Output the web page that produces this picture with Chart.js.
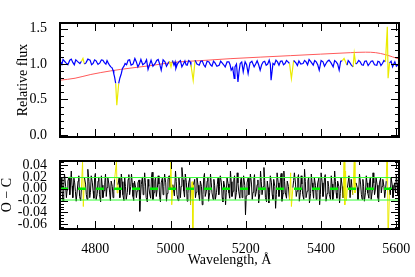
<!DOCTYPE html>
<html>
<head>
<meta charset="utf-8">
<script src="https://cdn.jsdelivr.net/npm/chart.js@4.4.1/dist/chart.umd.min.js"></script>
<style>
  html, body { margin: 0; padding: 0; background: #fff; }
  #wrap { position: relative; width: 415px; height: 277px; }
  #wrap canvas { position: absolute; left: 0; top: 0; }
</style>
</head>
<body>
<div id="wrap">
  <canvas id="fluxChart" width="415" height="277"></canvas>
  <canvas id="residChart" width="415" height="277"></canvas>
</div>
<script>
// observed spectrum, normalised
const wave = [4708, 4711, 4714, 4718, 4722, 4727, 4732, 4736, 4740, 4744, 4748, 4753, 4759, 4763, 4767, 4771, 4775, 4780,
  4786, 4790, 4794, 4798, 4802, 4807, 4812, 4816, 4820, 4824, 4828, 4831, 4834, 4838, 4841, 4844, 4847, 4849, 4851, 4854,
  4857, 4862, 4865, 4869, 4872, 4876, 4879, 4883, 4887, 4891, 4895, 4900, 4905, 4909, 4913, 4917, 4921, 4926, 4932, 4936,
  4940, 4944, 4948, 4953, 4959, 4963, 4967, 4971, 4975, 4980, 4985, 4989, 4993, 4997, 5001, 5005, 5009, 5012, 5014, 5018,
  5022, 5026, 5030, 5034, 5038, 5041, 5044, 5048, 5052, 5054, 5060, 5065, 5070, 5076, 5080, 5084, 5088, 5092, 5097, 5102,
  5106, 5110, 5114, 5118, 5123, 5129, 5133, 5137, 5141, 5145, 5150, 5155, 5158, 5161, 5165, 5169, 5171, 5175, 5179, 5182,
  5185, 5189, 5193, 5196, 5198, 5202, 5206, 5209, 5211, 5216, 5222, 5226, 5230, 5234, 5238, 5242, 5246, 5250, 5254, 5258,
  5262, 5265, 5267, 5272, 5276, 5280, 5284, 5288, 5292, 5296, 5300, 5304, 5308, 5312, 5316, 5321, 5327, 5333, 5337, 5341,
  5346, 5352, 5356, 5360, 5364, 5368, 5373, 5379, 5383, 5387, 5391, 5395, 5400, 5405, 5409, 5413, 5417, 5421, 5426, 5432,
  5436, 5440, 5444, 5448, 5452, 5456, 5461, 5469, 5472, 5475, 5480, 5485, 5488, 5492, 5496, 5500, 5504, 5508, 5512, 5516,
  5520, 5525, 5529, 5533, 5537, 5542, 5548, 5551, 5555, 5559, 5563, 5567, 5571, 5576, 5578, 5582, 5586, 5590, 5593, 5596,
  5600, 5603, 5607];
const flux = [1.031, 0.995, 1.065, 1.04, 1.017, 0.99, 1.055, 1.07, 1.023, 0.99, 1.06, 1.035, 1.008, 1.04, 1.079, 1.00, 1.017, 1.07,
  1.055, 0.99, 1.008, 1.06, 1.045, 0.995, 1.017, 1.06, 1.055, 1.02, 0.999, 1.05, 1.017, 0.98, 0.96, 0.95, 0.914, 0.86, 0.819, 0.726,
  0.419, 0.726, 0.80, 0.867, 0.938, 0.97, 1.008, 0.99, 1.055, 1.06, 0.984, 1.00, 1.079, 1.03, 0.96, 1.00, 1.065, 0.99, 1.017, 1.06,
  0.924, 0.99, 1.055, 0.97, 1.008, 1.05, 1.065, 1.00, 0.914, 1.06, 1.031, 0.97, 1.008, 1.04, 0.96, 1.05, 0.984, 1.03, 0.938, 1.00,
  1.031, 1.05, 0.96, 1.00, 1.045, 0.99, 0.984, 1.05, 1.031, 0.99, 0.772, 1.055, 1.00, 0.984, 1.04, 1.045, 0.99, 0.96, 1.04, 1.031,
  0.99, 0.97, 1.04, 1.017, 0.97, 0.984, 1.04, 1.017, 0.99, 0.96, 1.03, 1.031, 0.99, 0.914, 0.95, 0.796, 0.96, 1.00, 0.748, 0.90,
  1.008, 1.03, 0.89, 0.98, 1.031, 0.99, 0.867, 0.96, 1.017, 1.04, 0.96, 1.00, 1.045, 0.99, 0.914, 0.99, 1.031, 1.04, 0.984, 1.00,
  1.055, 1.00, 0.772, 1.008, 0.99, 1.055, 1.03, 0.984, 1.04, 1.045, 0.99, 1.008, 1.05, 1.031, 1.008, 0.796, 1.05, 1.017, 0.98, 1.045,
  1.00, 1.008, 1.05, 1.031, 0.99, 1.065, 1.03, 0.984, 1.05, 1.031, 0.99, 0.914, 1.05, 1.031, 0.97, 1.008, 1.04, 1.055, 1.02, 0.96,
  1.05, 1.031, 1.00, 0.914, 1.04, 1.045, 1.079, 0.984, 1.05, 1.031, 0.99, 0.96, 1.15, 1.00, 1.017, 1.05, 1.031, 0.99, 0.984, 1.04,
  1.045, 0.98, 1.008, 1.04, 1.045, 0.99, 0.984, 1.04, 1.031, 0.98, 1.008, 1.05, 1.031, 1.526, 0.80, 1.017, 1.04, 0.96, 1.00, 1.031,
  0.97, 0.984, 1.008];

// smooth red curve
const modelWave = [4706, 4746, 4788, 4841, 4892, 4945, 5012, 5078, 5158, 5238, 5318, 5398, 5478, 5518, 5545, 5571, 5608];
const model = [0.772, 0.80, 0.853, 0.904, 0.942, 0.977, 1.027, 1.048, 1.076, 1.098, 1.119, 1.140, 1.161, 1.168, 1.161, 1.133, 1.069];

// residuals O - C
const residWave = [4706, 4709, 4711, 4714, 4716, 4718, 4721, 4723, 4725, 4727, 4730, 4732, 4734, 4736, 4738, 4740, 4743, 4745,
  4747, 4749, 4752, 4754, 4756, 4758, 4761, 4763, 4766, 4768, 4771, 4774, 4776, 4778, 4780, 4783, 4785, 4787, 4789, 4792, 4794,
  4796, 4798, 4800, 4802, 4805, 4807, 4809, 4811, 4814, 4816, 4818, 4820, 4823, 4825, 4827, 4829, 4831, 4833, 4836, 4838, 4840,
  4842, 4845, 4847, 4849, 4851, 4856, 4858, 4860, 4863, 4865, 4867, 4869, 4871, 4873, 4876, 4878, 4880, 4882, 4885, 4887, 4889,
  4891, 4894, 4896, 4898, 4900, 4902, 4904, 4907, 4909, 4911, 4913, 4916, 4918, 4920, 4922, 4925, 4927, 4929, 4931, 4933, 4935,
  4938, 4940, 4942, 4944, 4947, 4949, 4951, 4953, 4956, 4958, 4960, 4962, 4965, 4967, 4969, 4971, 4973, 4975, 4978, 4980, 4982,
  4984, 4987, 4989, 4991, 4993, 4996, 4998, 5001, 5003, 5006, 5010, 5013, 5015, 5017, 5020, 5022, 5024, 5026, 5028, 5030, 5033,
  5035, 5037, 5039, 5042, 5044, 5046, 5048, 5051, 5053, 5057, 5059, 5061, 5064, 5066, 5068, 5070, 5073, 5075, 5077, 5079, 5082,
  5084, 5086, 5088, 5090, 5092, 5095, 5097, 5099, 5101, 5104, 5106, 5108, 5110, 5113, 5115, 5117, 5119, 5122, 5124, 5126, 5128,
  5130, 5132, 5135, 5137, 5139, 5141, 5144, 5146, 5148, 5150, 5153, 5155, 5157, 5159, 5161, 5163, 5166, 5168, 5170, 5172, 5175,
  5177, 5179, 5181, 5184, 5186, 5188, 5190, 5192, 5194, 5197, 5199, 5201, 5203, 5206, 5208, 5210, 5212, 5215, 5217, 5219, 5221,
  5223, 5225, 5228, 5230, 5232, 5234, 5237, 5239, 5241, 5243, 5246, 5248, 5250, 5252, 5255, 5257, 5259, 5261, 5263, 5265, 5268,
  5270, 5272, 5274, 5277, 5279, 5281, 5283, 5286, 5288, 5290, 5292, 5294, 5296, 5299, 5301, 5303, 5305, 5308, 5310, 5313, 5316,
  5319, 5321, 5325, 5327, 5329, 5332, 5334, 5336, 5338, 5340, 5342, 5345, 5347, 5349, 5351, 5354, 5356, 5358, 5360, 5363, 5365,
  5367, 5369, 5372, 5374, 5376, 5378, 5380, 5382, 5385, 5387, 5389, 5391, 5394, 5396, 5398, 5400, 5403, 5405, 5407, 5409, 5411,
  5413, 5416, 5418, 5420, 5422, 5425, 5427, 5429, 5431, 5434, 5436, 5438, 5440, 5442, 5444, 5447, 5449, 5451, 5453, 5456, 5458,
  5461, 5463, 5465, 5467, 5470, 5474, 5477, 5480, 5484, 5488, 5490, 5493, 5496, 5498, 5500, 5502, 5505, 5507, 5509, 5511, 5513,
  5515, 5518, 5520, 5522, 5524, 5527, 5529, 5531, 5533, 5536, 5538, 5540, 5542, 5544, 5546, 5549, 5551, 5553, 5555, 5558, 5560,
  5562, 5564, 5567, 5569, 5571, 5573, 5576, 5578, 5582, 5584, 5586, 5589, 5591, 5593, 5595, 5598, 5600, 5602, 5604, 5606, 5608];
const resid = [-0.004, 0.019, 0.000, -0.021, 0.005, 0.025, 0.004, -0.015, -0.002, 0.013, 0.020, -0.010, 0.008, 0.030, 0.005, -0.015, 0.018, 0.010,
  -0.005, -0.021, -0.002, 0.013, 0.022, -0.013, -0.020, 0.002, 0.045, -0.030, 0.019, 0.008, -0.010, -0.018, 0.033, 0.012, -0.015, -0.006, 0.022, 0.010, -0.004,
  -0.016, 0.019, 0.026, -0.018, -0.008, 0.013, 0.020, -0.010, -0.022, 0.022, 0.006, -0.015, -0.003, 0.010, 0.025, -0.013, 0.002, 0.019, 0.008, -0.007, -0.020,
  0.013, 0.004, -0.015, -0.004, 0.016, 0.045, -0.007, 0.007, 0.018, -0.015, -0.005, 0.025, 0.012, -0.010, -0.020, 0.019, 0.004, -0.018, -0.006, 0.016, 0.024,
  -0.010, 0.004, 0.025, 0.010, -0.013, -0.020, 0.013, 0.002, -0.015, -0.004, 0.010, 0.015, -0.038, -0.012, 0.007, 0.020, -0.010, 0.004, 0.027, 0.010, -0.015,
  -0.022, 0.016, 0.004, -0.007, -0.016, 0.019, 0.028, -0.018, -0.006, 0.013, 0.020, -0.013, 0.002, 0.022, 0.008, -0.015, -0.022, 0.010, 0.018, -0.010, 0.004,
  0.025, 0.010, -0.021, -0.008, 0.016, 0.022, -0.001, 0.045, -0.027, 0.007, -0.012, 0.030, 0.012, -0.010, -0.020, 0.019, 0.006, -0.015, 0.004, 0.036, 0.015,
  -0.004, -0.014, 0.025, 0.010, -0.021, -0.008, 0.010, 0.018, -0.027, 0.012, -0.070, 0.007, 0.016, -0.015, -0.006, 0.019, 0.006, -0.010, -0.020, 0.013, 0.004,
  -0.027, -0.010, 0.019, 0.026, -0.013, -0.004, 0.013, 0.020, -0.021, -0.006, 0.025, 0.010, -0.007, -0.018, 0.016, 0.006, -0.018, -0.006, 0.007, 0.018, -0.010,
  0.004, 0.022, 0.010, -0.015, -0.022, 0.013, 0.002, -0.027, -0.006, 0.019, 0.008, -0.007, -0.016, 0.030, 0.012, -0.013, -0.004, 0.016, 0.022, -0.018, -0.006,
  0.027, 0.010, -0.004, -0.016, 0.013, 0.020, -0.015, 0.002, 0.022, 0.006, -0.044, -0.012, 0.010, 0.018, -0.010, 0.004, 0.025, 0.008, -0.018, -0.006, 0.016,
  0.024, -0.013, -0.004, 0.007, 0.015, -0.024, -0.008, 0.030, 0.012, -0.010, 0.004, 0.036, 0.014, -0.015, -0.022, 0.013, 0.002, -0.024, -0.006, 0.022, 0.010,
  -0.010, -0.018, 0.016, 0.004, -0.033, -0.010, 0.027, 0.010, -0.013, -0.004, 0.019, 0.026, -0.021, -0.008, 0.030, 0.012, -0.007, -0.016, 0.013, 0.004, -0.018,
  0.027, -0.030, 0.002, 0.014, 0.027, 0.008, -0.013, -0.004, 0.019, 0.024, -0.021, -0.006, 0.022, 0.008, -0.010, -0.018, 0.033, 0.012, -0.015, -0.004, 0.013,
  0.020, -0.024, -0.008, 0.025, 0.010, -0.004, -0.016, 0.019, 0.006, -0.018, -0.006, 0.010, 0.018, -0.027, -0.010, 0.027, 0.010, -0.013, -0.004, 0.019, 0.024,
  -0.021, -0.008, 0.013, 0.004, -0.010, -0.018, 0.022, 0.008, -0.018, -0.004, 0.030, 0.012, -0.007, -0.016, 0.013, 0.004, -0.024, -0.008, 0.019, 0.004, -0.015,
  0.045, -0.027, 0.030, -0.020, 0.002, 0.022, -0.015, 0.016, -0.010, 0.045, -0.007, 0.010, 0.002, -0.018, -0.004, 0.025, 0.008, -0.010, -0.018, 0.016, 0.004,
  -0.021, -0.006, 0.022, 0.010, -0.007, -0.016, 0.013, 0.020, -0.018, -0.004, 0.027, 0.010, -0.010, -0.002, 0.019, 0.006, -0.015, -0.022, 0.010, 0.018, -0.007,
  0.004, 0.016, 0.004, -0.015, -0.004, 0.013, 0.080, -0.090, 0.002, -0.010, 0.019, 0.006, -0.015, -0.004, 0.010, -0.006, 0.025, 0.008, -0.010, 0.004, 0.013];
const sigma = 0.019;

// wavelength ranges excluded from the fit (drawn in yellow)
const masked = [[4764, 4769], [4855, 4859], [4999, 5004], [5055, 5060], [5318, 5323], [5459, 5468], [5487, 5491], [5575, 5579]];

const xTicks = [4800, 5000, 5200, 5400, 5600];
const fluxTicks = [0, 0.5, 1.0, 1.5];
const residTicks = [-0.06, -0.04, -0.02, 0, 0.02, 0.04];

const xMin = 4706, xMax = 5607;
const FONT = { family: '"Liberation Serif", "Times New Roman", serif', size: 14 };
const YELLOW = 'rgb(235,235,0)';

const isMasked = w => masked.some(r => w >= r[0] && w <= r[1]);
const maskColor = (xs, base) => c =>
  (isMasked(xs[c.p0DataIndex]) || isMasked(xs[c.p1DataIndex])) ? YELLOW : base;
const pts = (xs, ys) => xs.map((x, i) => ({ x: x, y: ys[i] }));

// IDL-style box with inward major/minor ticks on all four sides
function boxTicks(yMajor, yMinor) {
  return {
    id: 'boxTicks',
    afterDatasetsDraw(chart) {
      const { ctx, chartArea: a, scales: { x, y } } = chart;
      ctx.save();
      ctx.strokeStyle = '#000';
      ctx.lineWidth = 1;
      ctx.beginPath();
      const each = (min, max, step, major, fn) => {
        for (let k = Math.ceil(min / step - 1e-9); k * step <= max + 1e-9; k++) {
          const v = k * step, r = v / major;
          fn(v, Math.abs(r - Math.round(r)) < 1e-6 ? 8 : 4);
        }
      };
      each(x.min, x.max, 50, 200, (v, len) => {
        const p = Math.round(x.getPixelForValue(v)) + 0.5;
        ctx.moveTo(p, a.bottom); ctx.lineTo(p, a.bottom - len);
        ctx.moveTo(p, a.top); ctx.lineTo(p, a.top + len);
      });
      each(y.min, y.max, yMinor, yMajor, (v, len) => {
        const p = Math.round(y.getPixelForValue(v)) + 0.5;
        ctx.moveTo(a.left, p); ctx.lineTo(a.left + len, p);
        ctx.moveTo(a.right, p); ctx.lineTo(a.right - len, p);
      });
      ctx.stroke();
      ctx.lineWidth = 2;
      ctx.strokeRect(a.left, a.top, a.right - a.left, a.bottom - a.top);
      ctx.restore();
    }
  };
}

const fixTicks = list => s => { s.ticks = list.map(v => ({ value: v })); };

new Chart(document.getElementById('fluxChart'), {
  type: 'line',
  data: {
    datasets: [
      { data: pts(wave, flux), borderColor: '#0000ff', borderWidth: 1.2, order: 1,
        segment: { borderColor: maskColor(wave, '#0000ff') } },
      { data: pts(modelWave, model), borderColor: 'rgb(255,90,90)', borderWidth: 1, order: 2, cubicInterpolationMode: 'monotone' }
    ]
  },
  options: {
    responsive: false, animation: false, devicePixelRatio: 1,
    layout: { padding: { top: 23, right: 16, bottom: 140, left: 0 } },
    elements: { point: { radius: 0 }, line: { tension: 0 } },
    plugins: { legend: { display: false }, tooltip: { enabled: false } },
    scales: {
      x: { type: 'linear', min: xMin, max: xMax, display: false },
      y: {
        min: -0.03, max: 1.58,
        afterBuildTicks: fixTicks(fluxTicks),
        afterFit: s => { s.width = 60; },
        grid: { display: false }, border: { display: false },
        ticks: { font: FONT, color: '#000', padding: 5, callback: v => v.toFixed(1) },
        title: { display: true, text: 'Relative flux', font: { ...FONT, lineHeight: 1 }, color: '#000', padding: { top: 16, bottom: 0 } }
      }
    }
  },
  plugins: [boxTicks(0.5, 0.1)]
});

const zeroLine = [{ x: xMin, y: 0 }, { x: xMax, y: 0 }];
new Chart(document.getElementById('residChart'), {
  type: 'line',
  data: {
    datasets: [
      { data: zeroLine, borderColor: '#00ee00', borderWidth: 2.5, borderDash: [8, 10], order: 0 },
      { data: zeroLine.map(p => ({ x: p.x, y: sigma })), borderColor: '#33ff33', borderWidth: 1, order: 0 },
      { data: zeroLine.map(p => ({ x: p.x, y: -sigma })), borderColor: '#33ff33', borderWidth: 1, order: 0 },
      { data: pts(residWave, resid), borderColor: '#000', borderWidth: 1, order: 1,
        segment: { borderColor: maskColor(residWave, '#000') } }
    ]
  },
  options: {
    responsive: false, animation: false, devicePixelRatio: 1,
    layout: { padding: { top: 161, right: 16, bottom: 0, left: 0 } },
    elements: { point: { radius: 0 }, line: { tension: 0 } },
    plugins: { legend: { display: false }, tooltip: { enabled: false } },
    scales: {
      x: {
        type: 'linear', min: xMin, max: xMax,
        afterBuildTicks: fixTicks(xTicks),
        afterFit: s => { s.height = 48; },
        grid: { display: false }, border: { display: false },
        ticks: { font: FONT, color: '#000', padding: 4, maxRotation: 0, autoSkip: false, callback: v => String(v) },
        title: { display: true, text: 'Wavelength, Å', font: FONT, color: '#000', padding: { top: 0, bottom: 8 } }
      },
      y: {
        min: -0.068, max: 0.047,
        afterBuildTicks: fixTicks(residTicks),
        afterFit: s => { s.width = 60; },
        grid: { display: false }, border: { display: false },
        ticks: { font: FONT, color: '#000', padding: 5, autoSkip: false, callback: v => v.toFixed(2) },
        title: { display: true, text: 'O − C', font: { ...FONT, lineHeight: 1 }, color: '#000', padding: { top: 0, bottom: 0 } }
      }
    }
  },
  plugins: [boxTicks(0.02, 0.005)]
});
</script>
</body>
</html>
